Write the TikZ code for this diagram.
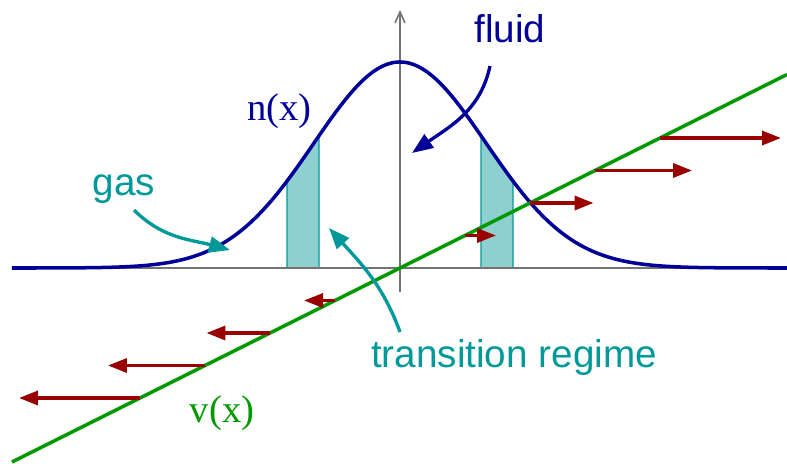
\documentclass[tikz,border=0pt]{standalone}
\usepackage{fontspec}
\setmainfont{Liberation Serif}
\setsansfont{Liberation Sans}
\usepackage{tikz}
\usetikzlibrary{arrows.meta,positioning}
\definecolor{navy}{HTML}{000099}
\definecolor{tealc}{HTML}{009999}
\definecolor{tealfill}{HTML}{8ECFCF}
\definecolor{vgreen}{HTML}{009900}
\definecolor{darkred}{HTML}{990000}

\begin{document}
\begin{tikzpicture}[x=1cm,y=1cm,font=\fontsize{22}{26}\selectfont,
  declare function={nx(\x)=4.12*exp(-\x*\x/(2*1.72*1.72));},
  lbl/.style={inner sep=0pt,anchor=base},
  sans/.style={font=\fontsize{22}{26}\selectfont\sffamily},
  band/.style={fill=tealfill,draw=tealc,line width=0.6pt},
  vel/.style={darkred,line width=1.9pt,-{Triangle[length=3.8mm,width=2.8mm]}},
  pointer/.style={line width=1.9pt,-{Triangle[length=4.2mm,width=3.2mm]}}]
\useasboundingbox (-8,-3.9) rectangle (7.74,5.36);
% transition bands
\foreach \s in {-1,1}{
  \filldraw[band] (\s*1.62,0) -- plot[domain=\s*1.62:\s*2.26,samples=20,smooth] (\x,{nx(\x)}) -- (\s*2.26,0) -- cycle;
}
% axes
\draw[black!55,line width=0.9pt] (-7.76,0) -- (7.74,0);
\draw[black!55,line width=0.9pt,-{Straight Barb[length=2.2mm,width=2mm]}] (0,-0.48) -- (0,5.16);
% density and velocity
\draw[navy,line width=2pt] plot[domain=-7.76:7.74,samples=141,smooth] (\x,{nx(\x)});
\coordinate (vlo) at (-7.76,-3.88);
\coordinate (vhi) at (7.74,3.87);
\draw[vgreen,line width=2pt] (vlo) -- (vhi);
\foreach \k/\l in {1/0.62,2/1.27,3/1.94,4/2.42}{
  \pgfmathsetmacro{\xx}{1.3*\k}
  \coordinate (vr\k) at (\xx,\xx/2);
  \coordinate (tr\k) at (\xx+\l,\xx/2);
  \coordinate (vl\k) at (-\xx,-\xx/2);
  \coordinate (tl\k) at (-\xx-\l,-\xx/2);
  \draw[vel] (vr\k) -- (tr\k);
  \draw[vel] (vl\k) -- (tl\k);
}
% labels
\node[lbl,sans,navy] (fluid) at (2.2,4.52) {fluid};
\node[lbl,sans,tealc] (gas) at (-5.52,1.46) {gas};
\node[lbl,sans,tealc] (trans) at (2.28,-1.98) {transition regime};
\node[lbl,navy] (nlab) at (-2.41,2.96) {n(x)};
\node[lbl,vgreen] (vlab) at (-3.56,-3.08) {v(x)};
% pointers
\coordinate (fluidtail) at (1.8,4.04);
\coordinate (fluidtip) at (0.24,2.3);
\coordinate (gastail) at (-5.32,1.16);
\coordinate (gastip) at (-3.4,0.36);
\coordinate (transtail) at (0,-1.28);
\coordinate (transtip) at (-1.42,0.8);
\draw[pointer,navy] (fluidtail) to[out=258,in=35] (fluidtip);
\draw[pointer,tealc] (gastail) to[out=-45,in=165] (gastip);
\draw[pointer,tealc] (transtail) to[out=110,in=-48] (transtip);
\end{tikzpicture}
\end{document}
